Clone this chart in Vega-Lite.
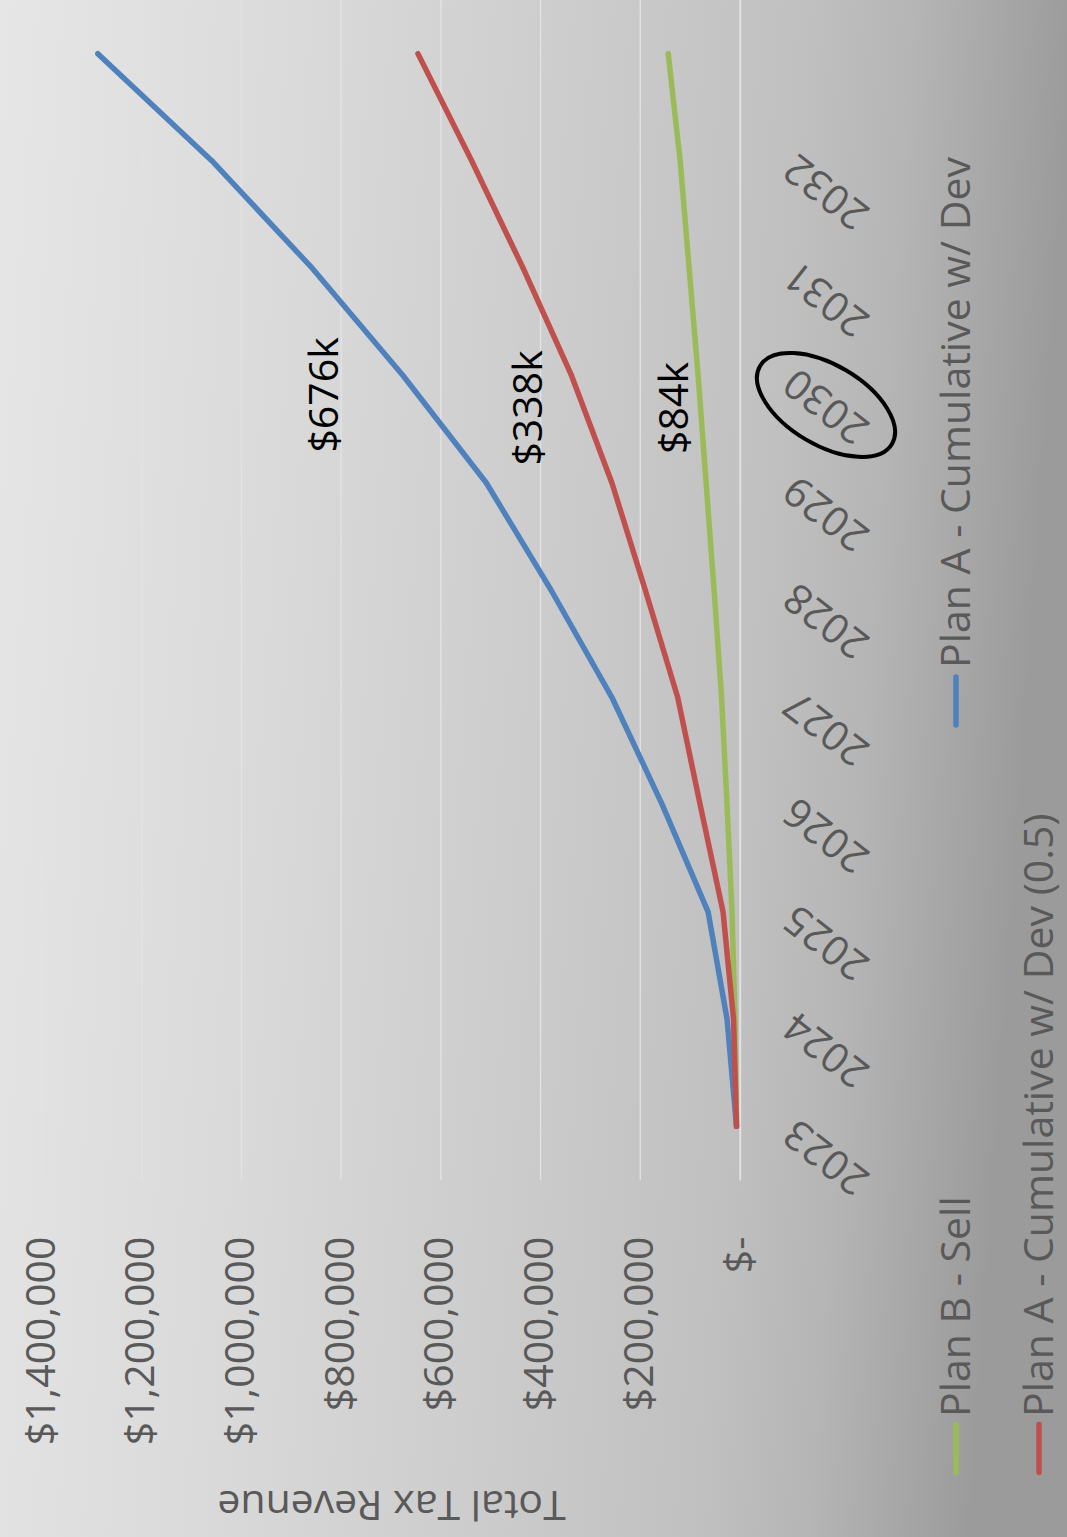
{
  "$schema": "https://vega.github.io/schema/vega-lite/v6.json",
  "width": 1067,
  "height": 1537,
  "autosize": {"type": "none"},
  "padding": 0,
  "background": "#c4c4c4",
  "view": {
    "stroke": null,
    "fill": {
      "gradient": "linear",
      "x1": 0, "y1": 0, "x2": 1, "y2": 0.1,
      "stops": [
        {"offset": 0, "color": "#e6e6e6"},
        {"offset": 0.28, "color": "#dadada"},
        {"offset": 0.56, "color": "#cbcbcb"},
        {"offset": 0.75, "color": "#c0c0c0"},
        {"offset": 0.85, "color": "#b5b5b5"},
        {"offset": 1, "color": "#9b9b9b"}
      ]
    }
  },
  "config": {
    "font": "Open Sans",
    "axis": {"labelFont": "Open Sans", "titleFont": "Open Sans"}
  },
  "datasets": {
    "gridlines": [
      {"value": 0}, {"value": 200000}, {"value": 400000}, {"value": 600000},
      {"value": 800000}, {"value": 1000000}, {"value": 1200000}, {"value": 1400000}
    ],
    "revenue": [
      {"series": "Plan B - Sell", "year": 2023, "value": 7000},
      {"series": "Plan B - Sell", "year": 2024, "value": 10000},
      {"series": "Plan B - Sell", "year": 2025, "value": 16000},
      {"series": "Plan B - Sell", "year": 2026, "value": 26000},
      {"series": "Plan B - Sell", "year": 2027, "value": 37000},
      {"series": "Plan B - Sell", "year": 2028, "value": 52000},
      {"series": "Plan B - Sell", "year": 2029, "value": 68000},
      {"series": "Plan B - Sell", "year": 2030, "value": 84000},
      {"series": "Plan B - Sell", "year": 2031, "value": 102000},
      {"series": "Plan B - Sell", "year": 2032, "value": 120000},
      {"series": "Plan B - Sell", "year": 2033, "value": 144000},
      {"series": "Plan A - Cumulative w/ Dev", "year": 2023, "value": 7000},
      {"series": "Plan A - Cumulative w/ Dev", "year": 2024, "value": 26000},
      {"series": "Plan A - Cumulative w/ Dev", "year": 2025, "value": 64000},
      {"series": "Plan A - Cumulative w/ Dev", "year": 2026, "value": 156000},
      {"series": "Plan A - Cumulative w/ Dev", "year": 2027, "value": 257000},
      {"series": "Plan A - Cumulative w/ Dev", "year": 2028, "value": 379000},
      {"series": "Plan A - Cumulative w/ Dev", "year": 2029, "value": 509000},
      {"series": "Plan A - Cumulative w/ Dev", "year": 2030, "value": 676000},
      {"series": "Plan A - Cumulative w/ Dev", "year": 2031, "value": 858000},
      {"series": "Plan A - Cumulative w/ Dev", "year": 2032, "value": 1059000},
      {"series": "Plan A - Cumulative w/ Dev", "year": 2033, "value": 1288000},
      {"series": "Plan A - Cumulative w/ Dev (0.5)", "year": 2023, "value": 7000},
      {"series": "Plan A - Cumulative w/ Dev (0.5)", "year": 2024, "value": 13000},
      {"series": "Plan A - Cumulative w/ Dev (0.5)", "year": 2025, "value": 34000},
      {"series": "Plan A - Cumulative w/ Dev (0.5)", "year": 2026, "value": 80000},
      {"series": "Plan A - Cumulative w/ Dev (0.5)", "year": 2027, "value": 125000},
      {"series": "Plan A - Cumulative w/ Dev (0.5)", "year": 2028, "value": 190000},
      {"series": "Plan A - Cumulative w/ Dev (0.5)", "year": 2029, "value": 257000},
      {"series": "Plan A - Cumulative w/ Dev (0.5)", "year": 2030, "value": 338000},
      {"series": "Plan A - Cumulative w/ Dev (0.5)", "year": 2031, "value": 435000},
      {"series": "Plan A - Cumulative w/ Dev (0.5)", "year": 2032, "value": 538000},
      {"series": "Plan A - Cumulative w/ Dev (0.5)", "year": 2033, "value": 646000}
    ],
    "notes": [
      {"series": "Plan A - Cumulative w/ Dev", "year": 2030, "value": 676000, "label": "$676k"},
      {"series": "Plan A - Cumulative w/ Dev (0.5)", "year": 2030, "value": 338000, "label": "$338k"},
      {"series": "Plan B - Sell", "year": 2030, "value": 84000, "label": "$84k"}
    ],
    "highlight": [{"year": 2030}],
    "legend": [
      {"series": "Plan B - Sell", "label": "Plan B - Sell"},
      {"series": "Plan A - Cumulative w/ Dev", "label": "Plan A - Cumulative w/ Dev"},
      {"series": "Plan A - Cumulative w/ Dev (0.5)", "label": "Plan A - Cumulative w/ Dev (0.5)"}
    ]
  },
  "layer": [
    {
      "data": {"name": "gridlines"},
      "mark": {"type": "rule", "color": "#e3e3e3", "strokeWidth": 1.3},
      "encoding": {
        "x": {"field": "value", "type": "quantitative"},
        "y": {"datum": 2022.5, "type": "quantitative"},
        "y2": {"datum": 2033.5}
      }
    },
    {
      "data": {"name": "revenue"},
      "mark": {"type": "line", "strokeWidth": 5.5, "strokeCap": "round", "strokeJoin": "round"},
      "encoding": {
        "x": {
          "field": "value", "type": "quantitative", "title": "Total Tax Revenue",
          "scale": {"domain": [0, 1400000], "range": [740, 42], "nice": false, "zero": false},
          "axis": {
            "orient": "bottom", "offset": -357,
            "values": [0, 200000, 400000, 600000, 800000, 1000000, 1200000, 1400000],
            "labelExpr": "datum.value === 0 ? '$-  ' : '$' + format(datum.value, ',')",
            "labelAngle": 270, "labelAlign": "right", "labelBaseline": "middle",
            "labelPadding": 56, "labelFontSize": 41, "labelColor": "#595959",
            "labelLimit": 0,
            "labelOverlap": false, "labelFlush": false, "labelBound": false,
            "ticks": false, "tickSize": 0, "domain": false,
            "grid": false,
            "title": "Total Tax Revenue", "titleAngle": 180, "titleY": 310,
            "titleBaseline": "alphabetic", "titleFontSize": 41, "titleColor": "#595959",
            "titleFontWeight": "normal"
          }
        },
        "y": {
          "field": "year", "type": "quantitative", "title": null,
          "scale": {"domain": [2022.5, 2033.5], "range": [1180, 0], "nice": false, "zero": false},
          "axis": {
            "orient": "right", "offset": -327,
            "values": [2023, 2024, 2025, 2026, 2027, 2028, 2029, 2030, 2031, 2032],
            "labelExpr": "'' + datum.value",
            "labelAngle": 218, "labelAlign": "right", "labelBaseline": "middle",
            "labelPadding": 50, "labelFontSize": 41, "labelColor": "#595959",
            "labelLimit": 0,
            "labelOverlap": false, "labelFlush": false, "labelBound": false,
            "ticks": false, "tickSize": 0,
            "domain": true, "domainColor": "#e3e3e3", "domainWidth": 1.3,
            "grid": false, "title": null
          }
        },
        "color": {
          "field": "series", "type": "nominal", "legend": null,
          "scale": {
            "domain": ["Plan A - Cumulative w/ Dev", "Plan A - Cumulative w/ Dev (0.5)", "Plan B - Sell"],
            "range": ["#4F81BD", "#C0504D", "#9BBB59"]
          }
        }
      }
    },
    {
      "data": {"name": "notes"},
      "transform": [{"filter": "datum.label === '$676k'"}],
      "mark": {"type": "text", "angle": 270, "align": "center", "baseline": "alphabetic", "fontSize": 41, "color": "#000000", "font": "Open Sans", "dx": -19.5, "dy": -65},
      "encoding": {
        "x": {"field": "value", "type": "quantitative"},
        "y": {"field": "year", "type": "quantitative"},
        "text": {"field": "label"}
      }
    },
    {
      "data": {"name": "notes"},
      "transform": [{"filter": "datum.label === '$338k'"}],
      "mark": {"type": "text", "angle": 270, "align": "center", "baseline": "alphabetic", "fontSize": 41, "color": "#000000", "font": "Open Sans", "dx": -32.5, "dy": -29.5},
      "encoding": {
        "x": {"field": "value", "type": "quantitative"},
        "y": {"field": "year", "type": "quantitative"},
        "text": {"field": "label"}
      }
    },
    {
      "data": {"name": "notes"},
      "transform": [{"filter": "datum.label === '$84k'"}],
      "mark": {"type": "text", "angle": 270, "align": "center", "baseline": "alphabetic", "fontSize": 41, "color": "#000000", "font": "Open Sans", "dx": -32.5, "dy": -10},
      "encoding": {
        "x": {"field": "value", "type": "quantitative"},
        "y": {"field": "year", "type": "quantitative"},
        "text": {"field": "label"}
      }
    },
    {
      "data": {"name": "highlight"},
      "mark": {
        "type": "point",
        "shape": "M0.861,0.509C0.714,0.757,0.21,0.73,-0.266,0.449C-0.741,0.168,-1.007,-0.261,-0.861,-0.509C-0.714,-0.757,-0.21,-0.73,0.266,-0.449C0.741,-0.168,1.007,0.261,0.861,0.509Z",
        "size": 23470, "filled": false, "stroke": "#000000", "strokeWidth": 4, "opacity": 1
      },
      "encoding": {
        "x": {"datum": 0, "type": "quantitative"},
        "y": {"field": "year", "type": "quantitative"},
        "xOffset": {"value": 86},
        "yOffset": {"value": 29.5}
      }
    },
    {
      "data": {"name": "legend"},
      "transform": [{"filter": "datum.series === 'Plan B - Sell'"}],
      "layer": [
        {
          "mark": {"type": "point", "shape": "M0,-1L0,1", "size": 2304, "filled": false, "strokeWidth": 5.5, "strokeCap": "round", "opacity": 1},
          "encoding": {
            "x": {"datum": 0, "type": "quantitative"},
            "y": {"datum": 2022.5, "type": "quantitative"},
            "xOffset": {"value": 216},
            "yOffset": {"value": 268.5},
            "color": {"field": "series", "type": "nominal", "legend": null}
          }
        },
        {
          "mark": {"type": "text", "angle": 270, "align": "left", "baseline": "alphabetic", "fontSize": 41, "color": "#595959", "font": "Open Sans", "dx": -237, "dy": 230},
          "encoding": {
            "x": {"datum": 0, "type": "quantitative"},
            "y": {"datum": 2022.5, "type": "quantitative"},
            "text": {"field": "label"}
          }
        }
      ]
    },
    {
      "data": {"name": "legend"},
      "transform": [{"filter": "datum.series === 'Plan A - Cumulative w/ Dev'"}],
      "layer": [
        {
          "mark": {"type": "point", "shape": "M0,-1L0,1", "size": 2304, "filled": false, "strokeWidth": 5.5, "strokeCap": "round", "opacity": 1},
          "encoding": {
            "x": {"datum": 0, "type": "quantitative"},
            "y": {"datum": 2022.5, "type": "quantitative"},
            "xOffset": {"value": 216},
            "yOffset": {"value": -479},
            "color": {"field": "series", "type": "nominal", "legend": null}
          }
        },
        {
          "mark": {"type": "text", "angle": 270, "align": "left", "baseline": "alphabetic", "fontSize": 41, "color": "#595959", "font": "Open Sans", "dx": 512, "dy": 230},
          "encoding": {
            "x": {"datum": 0, "type": "quantitative"},
            "y": {"datum": 2022.5, "type": "quantitative"},
            "text": {"field": "label"}
          }
        }
      ]
    },
    {
      "data": {"name": "legend"},
      "transform": [{"filter": "datum.series === 'Plan A - Cumulative w/ Dev (0.5)'"}],
      "layer": [
        {
          "mark": {"type": "point", "shape": "M0,-1L0,1", "size": 2304, "filled": false, "strokeWidth": 5.5, "strokeCap": "round", "opacity": 1},
          "encoding": {
            "x": {"datum": 0, "type": "quantitative"},
            "y": {"datum": 2022.5, "type": "quantitative"},
            "xOffset": {"value": 299},
            "yOffset": {"value": 268.5},
            "color": {"field": "series", "type": "nominal", "legend": null}
          }
        },
        {
          "mark": {"type": "text", "angle": 270, "align": "left", "baseline": "alphabetic", "fontSize": 41, "color": "#595959", "font": "Open Sans", "dx": -237, "dy": 313},
          "encoding": {
            "x": {"datum": 0, "type": "quantitative"},
            "y": {"datum": 2022.5, "type": "quantitative"},
            "text": {"field": "label"}
          }
        }
      ]
    }
  ]
}
